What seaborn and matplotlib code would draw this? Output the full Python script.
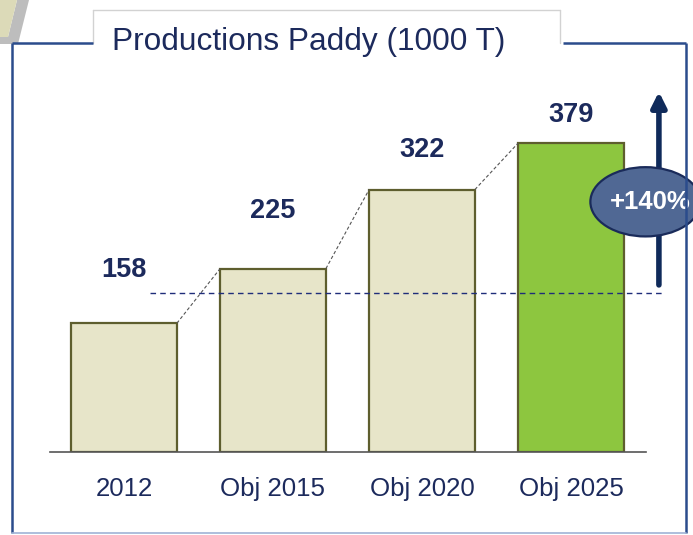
import matplotlib
matplotlib.use("Agg")
import matplotlib.pyplot as plt
from matplotlib.lines import Line2D
from matplotlib.patches import Ellipse, Polygon
import seaborn as sns

categories = ["2012", "Obj 2015", "Obj 2020", "Obj 2025"]
values = [158, 225, 322, 379]
growth_label = "+140%"
title = "Productions Paddy (1000 T)"
reference_level = 195

bar_colors = ["#e7e5c9", "#e7e5c9", "#e7e5c9", "#8dc63f"]
label_gap = [65, 71, 49, 34]
navy = "#1c2a5c"

sns.set_theme(style="white")
plt.rcParams['font.family'] = ['Liberation Sans', 'DejaVu Sans']

W, H = 693, 535
fig = plt.figure(figsize=(W / 100, H / 100), dpi=100)
fig.patch.set_facecolor("white")


def fx(x):
    return x / W


def fy(y):
    return 1 - y / H


def fig_line(xs, ys, **kw):
    fig.add_artist(Line2D([fx(x) for x in xs], [fy(y) for y in ys],
                          transform=fig.transFigure, **kw))


# decorative corner stripe
fig.add_artist(Polygon([(fx(17), fy(0)), (fx(29), fy(0)), (fx(18), fy(44)), (fx(0), fy(44)),
                        (fx(0), fy(37)), (fx(8), fy(37))], closed=True,
                       transform=fig.transFigure, facecolor="#bdbdbd", edgecolor="none"))
fig.add_artist(Polygon([(fx(0), fy(0)), (fx(17), fy(0)), (fx(8), fy(37)), (fx(0), fy(37))],
                       closed=True, transform=fig.transFigure,
                       facecolor="#dcdab8", edgecolor="none"))

# title box and frame
fig_line([93, 560], [10, 10], color="#d2d2d2", lw=1)
fig_line([93, 93], [10, 43], color="#d2d2d2", lw=1)
fig_line([560, 560], [10, 43], color="#d2d2d2", lw=1)
frame = dict(color="#2b4c8c", lw=1.8, solid_capstyle="butt")
fig_line([12, 12], [43, 533], **frame)
fig_line([12, 93], [43, 43], **frame)
fig_line([563, 686], [43, 43], **frame)
fig_line([686, 686], [43, 533], **frame)
fig_line([12, 686], [533, 533], color="#9fb3d6", lw=1.2)
fig.text(fx(309), fy(42), title, ha="center", va="center", fontsize=22.8, color=navy)

ax = fig.add_axes([49.5 / W, 83 / H, 596 / W, 391.2 / H])
sns.barplot(x=categories, y=values, hue=categories, palette=bar_colors, legend=False,
            edgecolor="#5e5e2e", linewidth=1.6, width=0.71, saturation=1, ax=ax)
ax.set_xlim(-0.5, 3.5)
ax.set_ylim(0, 480)
ax.set_facecolor("none")
for side in ["top", "left", "right"]:
    ax.spines[side].set_visible(False)
ax.spines["bottom"].set_color("#555555")
ax.spines["bottom"].set_linewidth(1.2)
ax.set_yticks([])
ax.set_xlabel("")
ax.set_ylabel("")
ax.tick_params(axis="x", length=0, pad=18, labelsize=18.6, labelcolor=navy)

half = 0.71 / 2
for i, v in enumerate(values):
    ax.text(i, v + label_gap[i], str(v), ha="center", va="center",
            fontsize=19.5, fontweight="bold", color=navy)
    if i + 1 < len(values):
        ax.plot([i + half, i + 1 - half], [v, values[i + 1]], color="#555555",
                lw=0.8, ls=(0, (3, 2)), zorder=1)

ax.plot([0.175, 3.63], [reference_level, reference_level], color="#1f2d7a",
        lw=1, ls=(0, (4, 3)), clip_on=False, zorder=4)

ax.annotate("", xy=(3.59, 442), xytext=(3.59, 205), annotation_clip=False,
            arrowprops=dict(arrowstyle="-|>", lw=4, color="#0f2a5a",
                            mutation_scale=22, shrinkA=0, shrinkB=0))
ax.add_patch(Ellipse((3.50, 307), width=0.74, height=85, facecolor="#506894",
                     edgecolor="#1a2b5a", lw=1.6, clip_on=False, zorder=6))
ax.text(3.53, 307, growth_label, ha="center", va="center", fontsize=18.5,
        fontweight="bold", color="white", zorder=7, clip_on=False)

fig.savefig("out.png", dpi=100)
